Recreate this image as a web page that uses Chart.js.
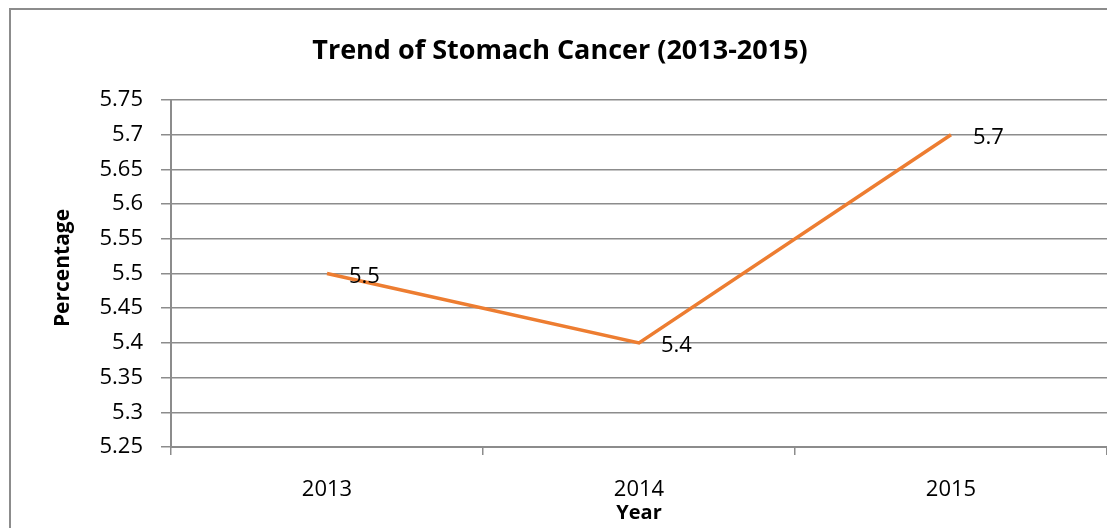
<!DOCTYPE html>
<html>
<head>
<meta charset="utf-8">
<script src="https://cdn.jsdelivr.net/npm/chart.js@4"></script>
<style>
  html, body { margin: 0; padding: 0; background: #fff; overflow: hidden; }
  #wrap { width: 1107px; height: 528px; position: relative; }
</style>
</head>
<body>
<div id="wrap"><canvas id="chart"></canvas></div>
<script>
const years = ['2013', '2014', '2015'];
const percentages = [5.5, 5.4, 5.7];
const yMin = 5.25;
const yMax = 5.75;
const yStep = 0.05;

const chartTitle = 'Trend of Stomach Cancer (2013-2015)';
const xTitle = 'Year';
const yTitle = 'Percentage';

const fontFamily = '"Open Sans", "DejaVu Sans", sans-serif';
const gridColor = '#8c8c8c';
const lineColor = '#ed7d31';

// frame, titles and value labels drawn on top of the chart
const decorations = {
    id: 'decorations',
    afterDraw(chart) {
        const ctx = chart.ctx;
        const area = chart.chartArea;
        ctx.save();

        // outer border (runs off the right and bottom edge)
        ctx.strokeStyle = '#8c8c8c';
        ctx.lineWidth = 2;
        ctx.strokeRect(10, 9, 1200, 600);

        ctx.fillStyle = '#000';
        ctx.font = 'bold 27px ' + fontFamily;
        ctx.textAlign = 'center';
        ctx.textBaseline = 'middle';
        ctx.fillText(chartTitle, 560, 51);

        ctx.font = 'bold 20px ' + fontFamily;
        ctx.fillText(xTitle, (area.left + area.right) / 2, 513);

        ctx.save();
        ctx.font = 'bold 21px ' + fontFamily;
        ctx.translate(63, 268);
        ctx.rotate(-Math.PI / 2);
        ctx.fillText(yTitle, 0, 0);
        ctx.restore();

        // value labels to the right of each point
        const meta = chart.getDatasetMeta(0);
        ctx.font = '22px ' + fontFamily;
        ctx.textAlign = 'left';
        meta.data.forEach((pt, i) => {
            ctx.fillText(String(percentages[i]), pt.x + 22, pt.y + 3);
        });

        ctx.restore();
    }
};

new Chart(document.getElementById('chart'), {
    type: 'line',
    data: {
        labels: years,
        datasets: [{
            data: percentages,
            borderColor: lineColor,
            borderWidth: 3.5,
            pointRadius: 0,
            tension: 0,
            fill: false
        }]
    },
    options: {
        responsive: true,
        maintainAspectRatio: false,
        animation: false,
        layout: { padding: { top: 100, left: 0, right: 0, bottom: 0 } },
        plugins: {
            legend: { display: false },
            tooltip: { enabled: false },
            title: { display: false }
        },
        scales: {
            x: {
                offset: true,
                afterFit(scale) { scale.height = 81; },
                grid: {
                    offset: true,
                    drawOnChartArea: false,
                    drawTicks: true,
                    tickLength: 8,
                    color: gridColor,
                    lineWidth: 1.5
                },
                border: { color: gridColor, width: 2 },
                ticks: {
                    color: '#000',
                    padding: 22,
                    font: { family: fontFamily, size: 22 }
                }
            },
            y: {
                min: yMin,
                max: yMax,
                afterFit(scale) { scale.width = 171; },
                grid: {
                    color: gridColor,
                    lineWidth: 1.5,
                    drawTicks: true,
                    tickLength: 10
                },
                border: { color: gridColor, width: 2 },
                ticks: {
                    stepSize: yStep,
                    color: '#000',
                    padding: 18,
                    font: { family: fontFamily, size: 22 },
                    callback: v => String(Math.round(v * 100) / 100)
                }
            }
        }
    },
    plugins: [decorations]
});
</script>
</body>
</html>
